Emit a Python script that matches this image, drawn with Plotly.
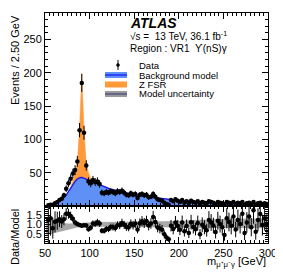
import numpy as np
import plotly.graph_objects as go

bin_width = 2.5
bin_low = np.arange(50, 300, bin_width)
bin_centers = bin_low + bin_width / 2

data_counts = [
    0, 1, 2, 2, 4, 6, 9, 11, 16, 26,
    34, 41, 49, 54, 67, 114, 185, 110, 61, 37,
    34, 39, 36, 37, 33, 20, 19, 21, 20, 22,
    21, 19, 22, 21, 23, 20, 17, 16, 19, 17,
    18, 12, 17, 18, 16, 17, 13, 14, 18, 14,
    10, 9, 8, 5, 3, 2, 9, 7, 10, 8,
    6, 9, 5, 7, 4, 8, 6, 5, 7, 3,
    6, 5, 4, 7, 6, 5, 3, 6, 5, 4,
    2, 6, 5, 4, 6, 3, 5, 4, 6, 2,
    4, 5, 3, 6, 2, 4, 5, 3, 4, 3,
]

bkg_model = [
    0.3, 0.8, 1.5, 2.5, 3.5, 5.0, 7.0, 9.5, 12.5, 16.5,
    21.5, 27.0, 32.5, 37.0, 40.5, 42.5, 43.0, 42.0, 40.5, 39.0,
    37.5, 36.0, 34.5, 33.0, 31.5, 30.0, 28.8, 27.6, 26.5, 25.5,
    24.5, 23.6, 22.8, 22.0, 21.2, 20.4, 19.7, 19.0, 18.3, 17.7,
    17.1, 16.5, 15.9, 15.3, 14.8, 14.3, 13.8, 13.3, 12.8, 12.3,
    11.9, 11.5, 11.1, 10.7, 10.3, 10.0, 9.6, 9.3, 9.0, 8.7,
    8.4, 8.1, 7.9, 7.6, 7.4, 7.1, 6.9, 6.7, 6.5, 6.3,
    6.1, 5.9, 5.8, 5.6, 5.4, 5.3, 5.1, 5.0, 4.9, 4.7,
    4.6, 4.5, 4.4, 4.3, 4.2, 4.1, 4.0, 3.9, 3.8, 3.7,
    3.6, 3.5, 3.5, 3.4, 3.3, 3.2, 3.2, 3.1, 3.0, 3.0,
]

zfsr_model = [0] * 100
zfsr_bins = {11: 1, 12: 5, 13: 12, 14: 25, 15: 75, 16: 156, 17: 72, 18: 24, 19: 11, 20: 4, 21: 1}
for i, v in zfsr_bins.items():
    zfsr_model[i] = v

# model uncertainty band (relative to model), lower and upper edges
band_lo = [
    0.45, 0.45, 0.48, 0.52, 0.55, 0.58, 0.62, 0.66, 0.70, 0.73,
    0.76, 0.78, 0.80, 0.82, 0.84, 0.85, 0.86, 0.87, 0.87, 0.88,
    0.88, 0.88, 0.88, 0.88, 0.88, 0.88, 0.88, 0.88, 0.88, 0.88,
    0.88, 0.88, 0.88, 0.88, 0.88, 0.88, 0.88, 0.88, 0.88, 0.88,
    0.88, 0.88, 0.88, 0.88, 0.88, 0.88, 0.88, 0.87, 0.87, 0.87,
    0.87, 0.87, 0.86, 0.86, 0.86, 0.86, 0.85, 0.85, 0.85, 0.85,
    0.84, 0.84, 0.84, 0.84, 0.83, 0.83, 0.83, 0.83, 0.82, 0.82,
    0.82, 0.82, 0.82, 0.81, 0.81, 0.81, 0.81, 0.81, 0.80, 0.80,
    0.80, 0.80, 0.80, 0.80, 0.80, 0.80, 0.80, 0.80, 0.80, 0.80,
    0.80, 0.80, 0.80, 0.80, 0.80, 0.80, 0.80, 0.80, 0.80, 0.80,
]
band_hi = [
    1.35, 1.33, 1.30, 1.20, 1.15, 1.12, 1.10, 1.08, 1.07, 1.06,
    1.05, 1.05, 1.06, 1.07, 1.08, 1.09, 1.10, 1.10, 1.11, 1.12,
    1.13, 1.13, 1.13, 1.13, 1.13, 1.13, 1.13, 1.13, 1.13, 1.13,
    1.13, 1.13, 1.13, 1.13, 1.13, 1.13, 1.13, 1.13, 1.13, 1.13,
    1.13, 1.13, 1.13, 1.14, 1.14, 1.14, 1.14, 1.15, 1.15, 1.15,
    1.16, 1.16, 1.17, 1.17, 1.18, 1.18, 1.19, 1.19, 1.20, 1.20,
    1.21, 1.21, 1.22, 1.22, 1.23, 1.23, 1.24, 1.24, 1.25, 1.25,
    1.26, 1.26, 1.27, 1.27, 1.28, 1.28, 1.28, 1.29, 1.29, 1.29,
    1.30, 1.30, 1.30, 1.30, 1.31, 1.31, 1.31, 1.31, 1.32, 1.32,
    1.32, 1.32, 1.33, 1.33, 1.33, 1.33, 1.33, 1.33, 1.33, 1.33,
]

x_ticks = [50, 100, 150, 200, 250, 300]
y_ticks = [50, 100, 150, 200, 250]
ratio_ticks = [0.5, 1.0, 1.5]
ratio_tick_text = ["0.5", "1.0", "1.5"]

# derived
data = np.array(data_counts, dtype=float)
bkg = np.array(bkg_model)
zfsr = np.array(zfsr_model, dtype=float)
total = bkg + zfsr
lo = np.array(band_lo)
hi = np.array(band_hi)
data_err = np.sqrt(data)
mask = data > 0
ratio = np.where(mask, data / total, np.nan)
ratio_err = np.where(mask, data_err / total, np.nan)

BLUE_FILL = "#5f90f5"
BLUE_LINE = "#1010ff"
ORANGE = "#ff9a38"
GRAY = "#a8a8a8"
FONT = "Liberation Sans"

fig = go.Figure()

fig.add_trace(go.Scatter(x=bin_centers, y=bkg, mode="lines", fill="tozeroy",
                         fillcolor=BLUE_FILL, line=dict(color=BLUE_FILL, width=0),
                         xaxis="x", yaxis="y", showlegend=False, hoverinfo="skip"))
fig.add_trace(go.Scatter(x=bin_centers, y=total, mode="lines", fill="tonexty",
                         fillcolor=ORANGE, line=dict(color=ORANGE, width=0.5),
                         xaxis="x", yaxis="y", showlegend=False, hoverinfo="skip"))
unc_scale = 0.35
fig.add_trace(go.Scatter(x=bin_centers, y=bkg * (1 - (1 - lo) * unc_scale), mode="lines",
                         line=dict(width=0), xaxis="x", yaxis="y", showlegend=False, hoverinfo="skip"))
fig.add_trace(go.Scatter(x=bin_centers, y=bkg * (1 + (hi - 1) * unc_scale), mode="lines", fill="tonexty",
                         fillcolor="rgba(120,120,120,0.45)", line=dict(width=0),
                         xaxis="x", yaxis="y", showlegend=False, hoverinfo="skip"))
fig.add_trace(go.Scatter(x=bin_centers, y=bkg, mode="lines",
                         line=dict(color=BLUE_LINE, width=1.2),
                         xaxis="x", yaxis="y", showlegend=False, hoverinfo="skip"))
fig.add_trace(go.Scatter(x=bin_centers[mask], y=data[mask], mode="markers",
                         marker=dict(color="black", size=4.5),
                         error_y=dict(type="data", array=data_err[mask], color="black",
                                      thickness=1, width=0),
                         xaxis="x", yaxis="y", showlegend=False, hoverinfo="skip"))

fig.add_trace(go.Scatter(x=bin_centers, y=lo, mode="lines", line=dict(width=0),
                         xaxis="x2", yaxis="y2", showlegend=False, hoverinfo="skip"))
fig.add_trace(go.Scatter(x=bin_centers, y=hi, mode="lines", fill="tonexty",
                         fillcolor=GRAY, line=dict(width=0),
                         xaxis="x2", yaxis="y2", showlegend=False, hoverinfo="skip"))
fig.add_trace(go.Scatter(x=bin_centers, y=ratio, mode="markers",
                         marker=dict(color="black", size=4.5),
                         error_y=dict(type="data", array=ratio_err, color="black",
                                      thickness=1, width=0),
                         xaxis="x2", yaxis="y2", showlegend=False, hoverinfo="skip"))

axis_common = dict(showline=True, linecolor="black", linewidth=1, mirror="allticks",
                   ticks="inside", ticklen=6, tickcolor="black", showgrid=False, zeroline=False,
                   automargin=False,
                   tickfont=dict(family=FONT, size=11, color="black"))

# the page body keeps its default 8px margin, so the figure is 8px smaller
fig.update_layout(
    width=275, height=266,
    margin=dict(l=37, r=15, t=5, b=31, autoexpand=False),
    paper_bgcolor="white", plot_bgcolor="white",
    font=dict(family=FONT, color="black"),
    xaxis=dict(**axis_common, domain=[0, 1], range=[50, 300], tickvals=x_ticks,
               showticklabels=False, anchor="y",
               minor=dict(dtick=5, ticklen=3, ticks="inside", tickcolor="black")),
    yaxis=dict(**axis_common, domain=[37 / 230, 1], range=[0, 290], tickvals=y_ticks,
               anchor="x", minor=dict(dtick=10, ticklen=3, ticks="inside", tickcolor="black")),
    xaxis2=dict(**axis_common, domain=[0, 1], range=[50, 300], tickvals=x_ticks,
                anchor="y2", matches="x",
                minor=dict(dtick=5, ticklen=3, ticks="inside", tickcolor="black")),
    yaxis2=dict(**axis_common, domain=[0, 37 / 230], range=[0, 2.0], tickvals=ratio_ticks,
                ticktext=ratio_tick_text, anchor="x2",
                minor=dict(dtick=0.1, ticklen=3, ticks="inside", tickcolor="black")),
)

def px(xp):
    return (xp - 45) / 223

def py(yp):
    return (243 - yp) / 230

ann = []
ann.append(dict(text="<b><i>ATLAS</i></b>", x=px(128), y=py(23), xanchor="left", yanchor="middle",
                font=dict(family=FONT, size=14, color="black")))
ann.append(dict(text="√s =  13 TeV, 36.1 fb<sup>-1</sup>", x=px(128), y=py(36), xanchor="left",
                yanchor="middle", font=dict(family=FONT, size=10, color="black")))
ann.append(dict(text="Region : VR1  ϒ(nS)γ", x=px(128), y=py(48), xanchor="left",
                yanchor="middle", font=dict(family=FONT, size=10, color="black")))
legend_items = [("Data", 65), ("Background model", 75), ("Z FSR", 84.5), ("Model uncertainty", 94)]
for label, yy in legend_items:
    ann.append(dict(text=label, x=px(137), y=py(yy), xanchor="left", yanchor="middle",
                    font=dict(family=FONT, size=9.5, color="black")))
ann.append(dict(text="Events / 2.50 GeV", x=px(15), y=1, xanchor="center", yanchor="top",
                textangle=-90, font=dict(family=FONT, size=11, color="black")))
ann.append(dict(text="Data/Model", x=px(15), y=py(207), xanchor="center", yanchor="top",
                textangle=-90, font=dict(family=FONT, size=11, color="black")))
ann.append(dict(text="m<sub>μ⁺μ⁻γ</sub> [GeV]", x=1, y=py(262), xanchor="right", yanchor="middle",
                font=dict(family=FONT, size=11, color="black")))
for a in ann:
    a.update(xref="paper", yref="paper", showarrow=False)
fig.update_layout(annotations=ann)

shapes = []
shapes.append(dict(type="line", x0=px(118), x1=px(118), y0=py(60), y1=py(70), line=dict(color="black", width=1)))
shapes.append(dict(type="circle", x0=px(116.5), x1=px(119.5), y0=py(63.5), y1=py(66.5),
                   fillcolor="black", line=dict(color="black", width=0.5)))
shapes.append(dict(type="rect", x0=px(105), x1=px(127), y0=py(72), y1=py(78), fillcolor=BLUE_FILL, line=dict(width=0)))
shapes.append(dict(type="line", x0=px(105), x1=px(127), y0=py(75), y1=py(75), line=dict(color=BLUE_LINE, width=1.2)))
shapes.append(dict(type="rect", x0=px(105), x1=px(127), y0=py(81.5), y1=py(87.5), fillcolor=ORANGE, line=dict(width=0)))
shapes.append(dict(type="rect", x0=px(105), x1=px(127), y0=py(91), y1=py(97), fillcolor="#9a9a9a", line=dict(width=0)))
shapes.append(dict(type="line", x0=px(105), x1=px(127), y0=py(94), y1=py(94), line=dict(color="#30307a", width=1)))
for s in shapes:
    s.update(xref="paper", yref="paper")
fig.update_layout(shapes=shapes)

fig.write_html("out.html", config={"displayModeBar": False})
